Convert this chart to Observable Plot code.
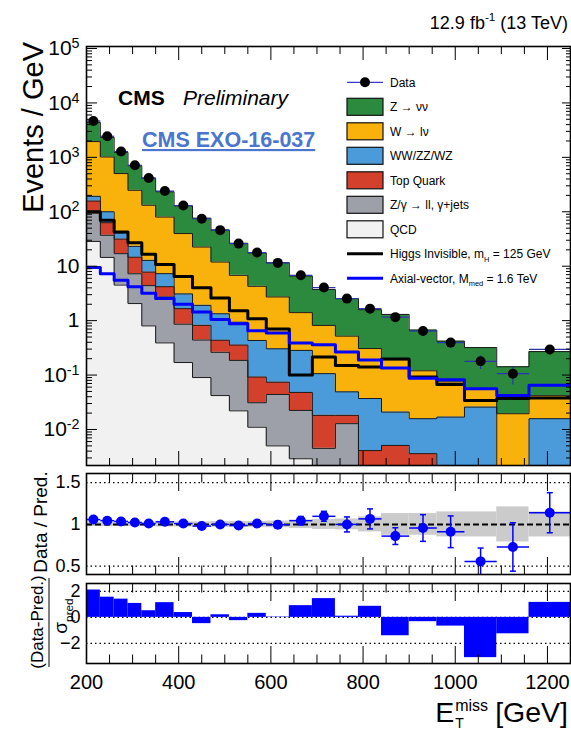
<!DOCTYPE html>
<html>
<head>
<meta charset="utf-8">
<script src="https://cdn.jsdelivr.net/npm/d3@7"></script>
<script src="https://cdn.jsdelivr.net/npm/@observablehq/plot@0.6"></script>
<style>
  body { margin: 0; background: #fff; }
  #root { position: relative; width: 571px; height: 730px; overflow: hidden; background: #fff;
          font-family: 'Liberation Sans', Arial, Helvetica, sans-serif; }
  #root > svg { position: absolute; left: 0; }
</style>
</head>
<body>
<div id="root"></div>
<script>
// ---------------- data ----------------
const binEdges = [200,230,260,290,320,350,390,430,470,510,550,590,640,690,740,790,840,900,960,1020,1090,1160,1250];

// background processes (Events / GeV), stacked bottom -> top
const qcd      = [28.5,14.5,4.5,2.06,0.8,0.39,0.17,0.09,0.042,0.022,0.011,0.005,0.0029,0,0,0,0,0,0,0,0,0];
const zll      = [66,22.5,12.5,5.2,3.6,2.33,0.69,0.35,0.22,0.164,0.02,0.039,0.0195,0.0045,0.0128,0,0,0,0,0,0,0];
const topQuark = [63,26,14.5,7.4,3.4,1.48,0.8,0.38,0.175,0.17,0.061,0.03,0.0256,0.0137,0.0054,0.0041,0.0051,0.0036,0,0,0,0];
const diboson  = [35,37,9.3,8.5,5.0,3.1,1.44,1.09,0.9,0.58,0.34,0.23,0.236,0.088,0.031,0.033,0.0158,0.0122,0.0169,0.0258,0,0.0158];
const wlnu     = [1757,916,463,225,119,72.7,36.7,20.6,10.6,5.86,3.84,2.42,1.12,0.71,0.47,0.27,0.17,0.104,0.058,0.03,0.0195,0.026];
const znunu    = [2450,1319,731,452,282,153,89,53.5,34.1,19.5,13.3,8.83,5.2,2.93,2.02,1.28,1.11,0.55,0.345,0.264,0.1225,0.228];

const processNames  = ["QCD", "Z/γ → ll, γ+jets", "Top Quark", "WW/ZZ/WZ", "W → lν", "Z → νν"];
const processColors = ["#f1f1f1", "#9da0a9", "#d3402b", "#4b9ad9", "#f9b20c", "#2c8a3e"];

// observed data
const data    = [4660,2440,1280,716,418,240,130,74.5,46,26,17.8,11.5,6.8,4.05,2.54,1.66,1.16,0.644,0.395,0.179,0.106,0.296];
const dataErr = [12.5,9,6.5,4.9,3.7,2.5,1.8,1.36,1.07,0.81,0.67,0.48,0.37,0.28,0.23,0.18,0.14,0.1,0.081,0.05,0.039,0.057];

// signals
const higgs = [100,70,42.5,27,16.5,10.8,6.5,4.0,2.6,1.52,1.08,0.7,0.1,0.214,0.15,0.14,0.197,0.092,0.067,0.034,0.037,0.038];
const axial = [9.5,7.3,5.5,4.2,3.2,2.54,2.0,1.44,1.05,0.88,0.65,0.59,0.39,0.36,0.265,0.19,0.135,0.087,0.082,0.056,0.042,0.065];

// ratio panel
const ratio    = [1.058,1.045,1.036,1.023,1.01,1.031,1.01,0.98,1.0,0.987,1.01,0.996,1.045,1.097,1.0,1.066,0.86,0.957,0.912,0.557,0.73,1.14];
const ratioErr = [0.006,0.007,0.009,0.011,0.014,0.016,0.02,0.025,0.03,0.033,0.038,0.042,0.05,0.06,0.09,0.12,0.1,0.16,0.19,0.16,0.29,0.24];
const bandErr  = [0.025,0.025,0.025,0.025,0.025,0.03,0.03,0.03,0.035,0.035,0.035,0.04,0.05,0.06,0.065,0.09,0.13,0.13,0.15,0.15,0.21,0.15];

// pull panel
const pull = [2.1,1.55,1.4,1.07,0.51,1.13,0.37,-0.48,0.2,-0.25,0.31,0.03,0.9,1.44,0.09,0.85,-1.41,-0.33,-0.67,-3.09,-1.26,1.15];

// tick values / labels
const xMajor = [200,400,600,800,1000,1200];
const xMinor = [250,300,350,450,500,550,650,700,750,850,900,950,1050,1100,1150,1250];
const yMajorExp = [-2,-1,0,1,2,3,4,5];
const ratioTicks = [0.5,1,1.5];
const pullTicks = [2,0,-2];

const legendLabels = ["Data","Z → νν","W → lν","WW/ZZ/WZ","Top Quark","Z/γ → ll, γ+jets","QCD",
                      "Higgs Invisible, m_{H} = 125 GeV","Axial-vector, M_{med} = 1.6 TeV"];

// ---------------- setup ----------------
const FONT = "'Liberation Sans', Arial, Helvetica, sans-serif";
const W = 571;
const root = document.getElementById("root");
const nb = data.length;
const yMin = 0.00218, yMax = 1.088e5;
const BLUE = "#0000ff", NAVY = "#2b35b0";

const bins = d3.range(nb).map(i => ({
  x1: binEdges[i], x2: binEdges[i+1], xc: (binEdges[i] + binEdges[i+1]) / 2,
  data: data[i], err: dataErr[i], ratio: ratio[i], rErr: ratioErr[i], band: bandErr[i], pull: pull[i]
}));

const processes = [qcd, zll, topQuark, diboson, wlnu, znunu];
const cum = [];
let run = new Array(nb).fill(0);
processes.forEach(p => {
  const lower = run.slice();
  run = run.map((v, i) => v + p[i]);
  cum.push({lower, upper: run.slice()});
});

const cl = v => Math.max(v, yMin);
function stepRows(lowerArr, upperArr) {
  const rows = d3.range(nb).map(i => ({x: binEdges[i], y1: cl(lowerArr[i]), y2: cl(upperArr[i])}));
  rows.push({x: binEdges[nb], y1: cl(lowerArr[nb-1]), y2: cl(upperArr[nb-1])});
  return rows;
}

const yMajor = yMajorExp.map(k => Math.pow(10, k));
const yMinor = [];
for (let k = -3; k < 5; k++) for (let m = 2; m < 10; m++) { const v = m * Math.pow(10, k); if (v > yMin && v < yMax) yMinor.push(v); }
const fmtPow = v => { const k = Math.round(Math.log10(v)); return k === 0 ? "1" : k === 1 ? "10" : "10^" + k; };

const tickOnly = (axis, vals, anchor, size) => axis(vals, {anchor, tickSize: -size, fill: "none", label: null, strokeWidth: 1});
const styleStr = `font-family: ${FONT}; background: transparent; overflow: visible;`;

// ---------------- top panel ----------------
const p1 = Plot.plot({
  width: W, height: 466, marginLeft: 86, marginRight: 1, marginTop: 46, marginBottom: 1,
  style: styleStr,
  x: {domain: [200, 1250], label: null},
  y: {type: "log", domain: [yMin, yMax], label: null},
  marks: [
    ...processes.map((p, j) => Plot.areaY(stepRows(cum[j].lower, cum[j].upper),
        {x: "x", y1: "y1", y2: "y2", curve: "step-after", fill: processColors[j], clip: true})),
    ...processes.map((p, j) => Plot.lineY(stepRows(cum[j].upper, cum[j].upper),
        {x: "x", y: "y2", curve: "step-after", stroke: "#1a1a1a", strokeWidth: 1, clip: true})),
    Plot.lineY(stepRows(higgs, higgs), {x: "x", y: "y2", curve: "step-after", stroke: "black", strokeWidth: 3, clip: true}),
    Plot.lineY(stepRows(axial, axial), {x: "x", y: "y2", curve: "step-after", stroke: BLUE, strokeWidth: 3, clip: true}),
    Plot.link(bins, {x1: "x1", x2: "x2", y1: "data", y2: "data", stroke: NAVY, strokeWidth: 1.2, clip: true}),
    Plot.link(bins, {x1: "xc", x2: "xc", y1: d => cl(d.data - d.err), y2: d => d.data + d.err, stroke: NAVY, strokeWidth: 1.2, clip: true}),
    Plot.dot(bins, {x: "xc", y: "data", r: 5, fill: "black"}),
    Plot.frame({stroke: "black", strokeWidth: 1.6}),
    tickOnly(Plot.axisY, yMajor, "left", 11),
    tickOnly(Plot.axisY, yMinor, "left", 6),
    tickOnly(Plot.axisY, yMajor, "right", 9),
    tickOnly(Plot.axisY, yMinor, "right", 5),
    tickOnly(Plot.axisX, xMajor, "top", 13),
    tickOnly(Plot.axisX, xMinor, "top", 7),
    tickOnly(Plot.axisX, xMajor, "bottom", 14),
    tickOnly(Plot.axisX, xMinor, "bottom", 7),
    Plot.axisY(yMajor, {anchor: "left", tickSize: 0, tickPadding: 7, tickFormat: fmtPow, fontSize: 21, fill: "black", label: null})
  ]
});
p1.style.top = "0px";
root.appendChild(p1);
d3.select(p1).selectAll("text").each(function() {
  const m = this.textContent.match(/^(.*)\^(.*)$/);
  if (m) {
    const s = d3.select(this);
    s.text(m[1]);
    s.append("tspan").attr("dy", "-0.5em").attr("font-size", "0.68em").text(m[2]);
  }
});

// ---------------- ratio panel ----------------
const capSymbol = {draw(ctx) { ctx.moveTo(-3, 0); ctx.lineTo(3, 0); }};
const p2 = Plot.plot({
  width: W, height: 110, marginLeft: 86, marginRight: 1, marginTop: 7, marginBottom: 2,
  style: styleStr,
  x: {domain: [200, 1250], label: null},
  y: {domain: [0.4, 1.61], label: null},
  marks: [
    Plot.rect(bins, {x1: "x1", x2: "x2", y1: d => 1 - d.band, y2: d => 1 + d.band, fill: "#cbcbcb"}),
    Plot.ruleY([0.5, 1.5], {stroke: "black", strokeDasharray: "1.5,3", strokeWidth: 1.2}),
    Plot.ruleY([1], {stroke: "black", strokeDasharray: "6,3", strokeWidth: 2}),
    Plot.link(bins, {x1: "x1", x2: "x2", y1: "ratio", y2: "ratio", stroke: BLUE, strokeWidth: 1.5}),
    Plot.link(bins, {x1: "xc", x2: "xc", y1: d => d.ratio - d.rErr, y2: d => d.ratio + d.rErr, stroke: BLUE, strokeWidth: 1.5, clip: true}),
    Plot.dot(bins, {x: "xc", y: d => d.ratio - d.rErr, symbol: capSymbol, stroke: BLUE, strokeWidth: 1.5, clip: true}),
    Plot.dot(bins, {x: "xc", y: d => d.ratio + d.rErr, symbol: capSymbol, stroke: BLUE, strokeWidth: 1.5, clip: true}),
    Plot.dot(bins, {x: "xc", y: "ratio", r: 5, fill: BLUE}),
    Plot.frame({stroke: "black", strokeWidth: 1.6}),
    tickOnly(Plot.axisX, xMajor, "top", 17),
    tickOnly(Plot.axisX, xMinor, "top", 8.5),
    tickOnly(Plot.axisX, xMajor, "bottom", 17),
    tickOnly(Plot.axisX, xMinor, "bottom", 8.5),
    Plot.axisY(ratioTicks, {anchor: "left", tickSize: 0, tickPadding: 6, tickFormat: d => String(d), fontSize: 18, fill: "black", label: null})
  ]
});
p2.style.top = "466px";
root.appendChild(p2);

// ---------------- pull panel ----------------
const p3 = Plot.plot({
  width: W, height: 154, marginLeft: 86, marginRight: 1, marginTop: 7, marginBottom: 67,
  style: styleStr,
  x: {domain: [200, 1250], label: null},
  y: {domain: [-3.54, 2.6], label: null},
  marks: [
    Plot.ruleY(pullTicks, {stroke: "black", strokeDasharray: "1.5,3", strokeWidth: 1.2}),
    Plot.rectY(bins, {x1: "x1", x2: "x2", y1: 0, y2: "pull", fill: BLUE, clip: true}),
    Plot.frame({stroke: "black", strokeWidth: 1.6}),
    tickOnly(Plot.axisX, xMajor, "top", 17),
    tickOnly(Plot.axisX, xMinor, "top", 8.5),
    tickOnly(Plot.axisX, xMajor, "bottom", 17),
    tickOnly(Plot.axisX, xMinor, "bottom", 8.5),
    Plot.axisX(xMajor, {anchor: "bottom", tickSize: 0, tickPadding: 11, tickFormat: d => String(d), fontSize: 20, fill: "black", label: null}),
    Plot.axisY(pullTicks, {anchor: "left", tickSize: 0, tickPadding: 6, tickFormat: d => d < 0 ? "−" + (-d) : String(d), fontSize: 18, fill: "black", label: null})
  ]
});
p3.style.top = "576px";
root.appendChild(p3);

// ---------------- overlay: titles, labels, legend ----------------
const ov = d3.select(root).append("svg")
  .attr("width", W).attr("height", 730)
  .style("top", "0px").style("font-family", FONT).style("pointer-events", "none");

function richText(sel, str, size) {
  const parts = str.split(/(_\{[^}]*\}|\^\{[^}]*\})/).filter(s => s.length);
  let shift = 0;
  parts.forEach(p => {
    let dy = 0, fs = null, txt = p;
    if (p.startsWith("_{")) { txt = p.slice(2, -1); dy = 0.3 * size; fs = 0.62 * size; }
    else if (p.startsWith("^{")) { txt = p.slice(2, -1); dy = -0.42 * size; fs = 0.65 * size; }
    const t = sel.append("tspan").attr("dy", dy - shift).text(txt);
    if (fs) t.attr("font-size", fs);
    shift = dy;
  });
  return sel;
}
const measure = (str, size) => {
  const t = ov.append("text").attr("font-size", size).text(str);
  const w = t.node().getComputedTextLength();
  t.remove();
  return w;
};

// luminosity
richText(ov.append("text").attr("x", 568).attr("y", 29).attr("text-anchor", "end").attr("font-size", 18), "12.9 fb^{-1} (13 TeV)", 18);

// CMS labels
ov.append("text").attr("x", 118).attr("y", 105).attr("font-size", 21).attr("font-weight", "bold").text("CMS");
ov.append("text").attr("x", 183).attr("y", 105).attr("font-size", 21).attr("font-style", "italic").text("Preliminary");
ov.append("text").attr("x", 142).attr("y", 147).attr("font-size", 21.5).attr("font-weight", "bold")
  .attr("fill", "#4a76cf").attr("text-decoration", "underline").text("CMS EXO-16-037");

// y titles
ov.append("text").attr("transform", "translate(43,42) rotate(-90)").attr("text-anchor", "end")
  .attr("font-size", 29).text("Events / GeV");
ov.append("text").attr("transform", "translate(47,522) rotate(-90)").attr("text-anchor", "middle")
  .attr("font-size", 19).text("Data / Pred.");
ov.append("text").attr("transform", "translate(43,622) rotate(-90)").attr("text-anchor", "middle")
  .attr("font-size", 17).text("(Data-Pred.)");
ov.append("line").attr("x1", 49).attr("x2", 49).attr("y1", 578).attr("y2", 667).attr("stroke", "black").attr("stroke-width", 1);
richText(ov.append("text").attr("transform", "translate(67,616) rotate(-90)").attr("text-anchor", "middle")
  .attr("font-size", 19), "σ_{pred}", 19);

// x title: E_T^miss [GeV] as one text element
const wGeV = measure("[GeV]", 28.5), wMiss = measure("miss", 16), wE = measure("E", 28.5);
const xGeV = 568 - wGeV;
const xSub = xGeV - 7 - wMiss;
const xE = xSub - 1 - wE;
const xt = ov.append("text").attr("x", xE).attr("y", 722).attr("font-size", 28.5);
xt.append("tspan").text("E");
xt.append("tspan").attr("x", xSub).attr("dy", 6).attr("font-size", 14).text("T");
xt.append("tspan").attr("x", xSub).attr("dy", -17).attr("font-size", 16).text("miss");
xt.append("tspan").attr("x", xGeV).attr("dy", 11).text("[GeV]");

// legend
const legX = 347, legY0 = 82.3, legStep = 24.5, boxW = 36, boxH = 17;
const legendStyle = [
  {kind: "data"},
  {kind: "box", color: processColors[5]},
  {kind: "box", color: processColors[4]},
  {kind: "box", color: processColors[3]},
  {kind: "box", color: processColors[2]},
  {kind: "box", color: processColors[1]},
  {kind: "box", color: processColors[0]},
  {kind: "line", color: "black"},
  {kind: "line", color: BLUE}
];
legendLabels.forEach((lab, i) => {
  const y = legY0 + i * legStep, st = legendStyle[i];
  if (st.kind === "box") {
    ov.append("rect").attr("x", legX).attr("y", y - boxH / 2).attr("width", boxW).attr("height", boxH)
      .attr("fill", st.color).attr("stroke", "#111").attr("stroke-width", 1.2);
  } else if (st.kind === "line") {
    ov.append("line").attr("x1", legX).attr("x2", legX + boxW).attr("y1", y).attr("y2", y)
      .attr("stroke", st.color).attr("stroke-width", 3);
  } else {
    ov.append("line").attr("x1", legX).attr("x2", legX + boxW).attr("y1", y).attr("y2", y)
      .attr("stroke", "#3a3ad0").attr("stroke-width", 1.2);
    ov.append("circle").attr("cx", legX + boxW / 2).attr("cy", y).attr("r", 5).attr("fill", "black");
  }
  richText(ov.append("text").attr("x", 390).attr("y", y + 4.3).attr("font-size", 12), lab, 12);
});
</script>
</body>
</html>
